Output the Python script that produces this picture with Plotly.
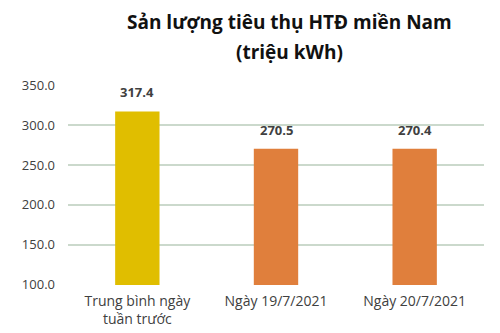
import plotly.graph_objects as go

categories = ["Trung bình ngày<br>tuần trước", "Ngày 19/7/2021", "Ngày 20/7/2021"]
values = [317.4, 270.5, 270.4]
bar_colors = ["#E0BE00", "#E07F3C", "#E07F3C"]
tick_vals = [100, 150, 200, 250, 300, 350]
tick_text = ["100.0", "150.0", "200.0", "250.0", "300.0", "350.0"]
title_lines = ["Sản lượng tiêu thụ HTĐ miền Nam", "(triệu kWh)"]

fig = go.Figure()
fig.add_trace(go.Bar(
    x=categories, y=values,
    marker=dict(color=bar_colors, line=dict(width=0)),
    width=0.32,
))

for c, v in zip(categories, values):
    fig.add_annotation(
        x=c, y=v, text=f"{v:.1f}", showarrow=False,
        yanchor="bottom", yshift=8,
        font=dict(family="Open Sans", size=13, color="#404040", weight="bold"),
    )

title_y = [22, 52]
for line, yp in zip(title_lines, title_y):
    fig.add_annotation(
        text=line, xref="paper", x=0.532, xanchor="center",
        yref="paper", y=1 + (85 - yp) / 200, yanchor="middle",
        showarrow=False,
        font=dict(family="Open Sans", size=19, color="#111111", weight="bold"),
    )

fig.update_layout(
    width=500, height=333,
    margin=dict(l=68, r=16, t=85, b=48),
    paper_bgcolor="white", plot_bgcolor="white",
    showlegend=False,
    font=dict(family="Open Sans", color="#404040"),
)
fig.update_yaxes(
    range=[99.4, 350.6],
    tickvals=tick_vals, ticktext=tick_text,
    showgrid=True, gridcolor="#CBD9CC", gridwidth=1.5,
    zeroline=False, showline=False,
    tickfont=dict(size=13, color="#404040"),
    ticklabelstandoff=12,
    automargin=False,
)
fig.update_xaxes(
    showgrid=False, showline=False,
    tickfont=dict(size=14, color="#404040"),
    ticklabelstandoff=6,
    automargin=False,
)

fig.write_html("out.html")
